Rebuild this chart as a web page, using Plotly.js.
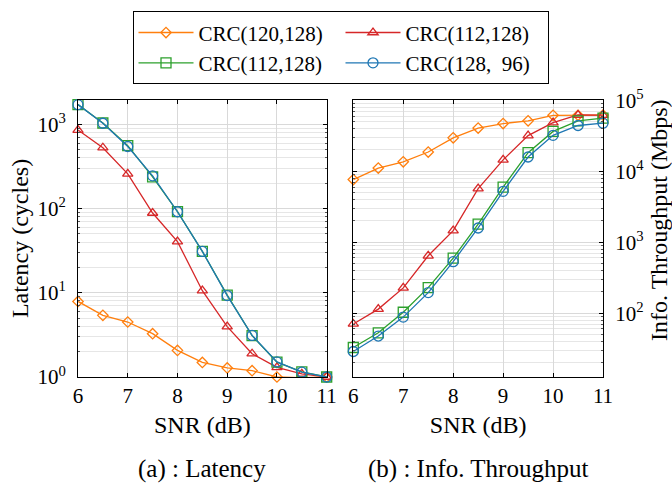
<!DOCTYPE html>
<html>
<head>
<meta charset="utf-8">
<script src="https://cdn.plot.ly/plotly-3.0.1.min.js"></script>
<style>html,body{margin:0;padding:0;background:#fff;}#chart{width:672px;height:485px;}</style>
</head>
<body>
<div id="chart"></div>
<script>
// ---- data ----
const snr = [6, 6.5, 7, 7.5, 8, 8.5, 9, 9.5, 10, 10.5, 11];
const seriesNames = ['CRC(120,128)', 'CRC(112,128)', 'CRC(112,128)', 'CRC(128,\u00a0\u00a096)'];
const latencyOrange = [7.9, 5.4, 4.5, 3.27, 2.07, 1.49, 1.28, 1.19, 1.0, 0.98, 1.0];
const latencyRed    = [857, 529, 259, 88.7, 40.5, 10.6, 3.97, 1.89, 1.30, 1.09, 1.0];
const latencyGreen  = [1720, 1040, 560, 238, 92, 31, 9.4, 3.1, 1.5, 1.15, 1.0];
const latencyBlue   = [1718, 1033, 547, 245, 91.8, 31, 9.27, 3.12, 1.51, 1.14, 1.0];
const thrOrange = [7650, 11100, 13600, 18700, 29600, 40700, 47100, 51400, 61500, 61500, 62000];
const thrRed    = [70.4, 114, 227, 644, 1456, 5690, 14500, 31800, 48600, 62200, 62000];
const thrGreen  = [32.8, 52.8, 103, 229, 597, 1803, 6000, 18300, 36500, 51400, 56000];
const thrBlue   = [28.8, 47.6, 88, 195, 532, 1588, 5220, 15900, 32100, 44200, 47700];
const latTickVals = [1, 10, 100, 1000];
const latTickText = ['10<sup>0</sup>', '10<sup>1</sup>', '10<sup>2</sup>', '10<sup>3</sup>'];
const thrTickVals = [100, 1000, 10000, 100000];
const thrTickText = ['10<sup>2</sup>', '10<sup>3</sup>', '10<sup>4</sup>', '10<sup>5</sup>'];
const xTickVals = [6, 7, 8, 9, 10, 11];
const captions = ['(a) : Latency', '(b) : Info. Throughput'];

// ---- styles ----
const colors = ['#ff7f0e', '#d62728', '#2ca02c', '#1f77b4'];
const symbols = ['diamond-open', 'triangle-up-open', 'square-open', 'circle-open'];
const sizes = [8, 9, 10, 10];
const FONT = 'Liberation Serif';

const latData = [latencyOrange, latencyRed, latencyGreen, latencyBlue];
const thrData = [thrOrange, thrRed, thrGreen, thrBlue];
const traces = [];
latData.forEach((ys, i) => {
  traces.push({
    x: snr, y: ys, xaxis: 'x', yaxis: 'y', type: 'scatter', mode: 'lines+markers',
    name: seriesNames[i], legendgroup: 'g' + i, showlegend: true, cliponaxis: false,
    line: {color: colors[i], width: 1.3},
    marker: {symbol: symbols[i], size: sizes[i], color: colors[i], line: {color: colors[i], width: 1.3}}
  });
});
thrData.forEach((ys, i) => {
  traces.push({
    x: snr, y: ys, xaxis: 'x2', yaxis: 'y2', type: 'scatter', mode: 'lines+markers',
    name: seriesNames[i], legendgroup: 'g' + i, showlegend: false, cliponaxis: false,
    line: {color: colors[i], width: 1.3},
    marker: {symbol: symbols[i], size: sizes[i], color: colors[i], line: {color: colors[i], width: 1.3}}
  });
});

const gridCol = '#d9d9d9';
const minorGridCol = '#e6e6e6';
function xAxis(domain, anchor) {
  return {
    domain: domain, anchor: anchor, range: [6, 11], tickvals: xTickVals,
    showline: true, linecolor: '#000', linewidth: 1, mirror: 'ticks',
    ticks: 'inside', ticklen: 4, tickcolor: '#000',
    showgrid: true, gridcolor: gridCol, gridwidth: 1, zeroline: false,
    tickfont: {family: FONT, size: 21, color: '#000'},
    title: {text: 'SNR (dB)', font: {family: FONT, size: 24, color: '#000'}, standoff: 8},
    automargin: false
  };
}
function yAxis(range, tv, tt, anchor, side) {
  return {
    type: 'log', range: range, anchor: anchor, side: side, domain: [0, 1],
    tickvals: tv, ticktext: tt,
    showline: true, linecolor: '#000', linewidth: 1, mirror: 'ticks',
    ticks: 'inside', ticklen: 4, tickcolor: '#000',
    showgrid: true, gridcolor: gridCol, gridwidth: 1, zeroline: false,
    minor: {dtick: 'D1', showgrid: true, gridcolor: minorGridCol, gridwidth: 1, ticks: 'inside', ticklen: 2, tickcolor: '#555'},
    ticklabelstandoff: 7,
    tickfont: {family: FONT, size: 21, color: '#000'},
    automargin: false
  };
}

const yLeft = yAxis([0, 3.29], latTickVals, latTickText, 'x', 'left');
yLeft.title = {text: 'Latency (cycles)', font: {family: FONT, size: 24, color: '#000'}, standoff: 2};
const yRight = yAxis([1.1, 5.005], thrTickVals, thrTickText, 'x2', 'right');

const layout = {
  width: 672, height: 485,
  margin: {l: 78, r: 69, t: 94, b: 108, pad: 0},
  paper_bgcolor: '#fff', plot_bgcolor: '#fff',
  font: {family: FONT, color: '#000'},
  showlegend: true,
  xaxis: xAxis([0, 0.4737], 'y'),
  yaxis: yLeft,
  xaxis2: xAxis([0.5244, 1], 'y2'),
  yaxis2: yRight,
  legend: {
    orientation: 'h', x: 0.5, xanchor: 'center', y: 1.32, yanchor: 'top',
    bgcolor: '#fff', bordercolor: '#000', borderwidth: 1,
    font: {family: FONT, size: 21, color: '#000'},
    entrywidth: 137, entrywidthmode: 'pixels', itemwidth: 55,
    traceorder: 'normal'
  },
  annotations: [
    {xref: 'paper', yref: 'paper', x: 1.108, y: 0.566, text: 'Info. Throughput (Mbps)', textangle: -90,
     showarrow: false, xanchor: 'center', yanchor: 'middle', font: {family: FONT, size: 24, color: '#000'}},
    {xref: 'paper', yref: 'paper', x: 0.236, y: -0.333, text: captions[0],
     showarrow: false, xanchor: 'center', yanchor: 'middle', font: {family: FONT, size: 25, color: '#000'}},
    {xref: 'paper', yref: 'paper', x: 0.762, y: -0.333, text: captions[1],
     showarrow: false, xanchor: 'center', yanchor: 'middle', font: {family: FONT, size: 25, color: '#000'}}
  ]
};

Plotly.newPlot('chart', traces, layout, {displayModeBar: false, staticPlot: true});
</script>
</body>
</html>
